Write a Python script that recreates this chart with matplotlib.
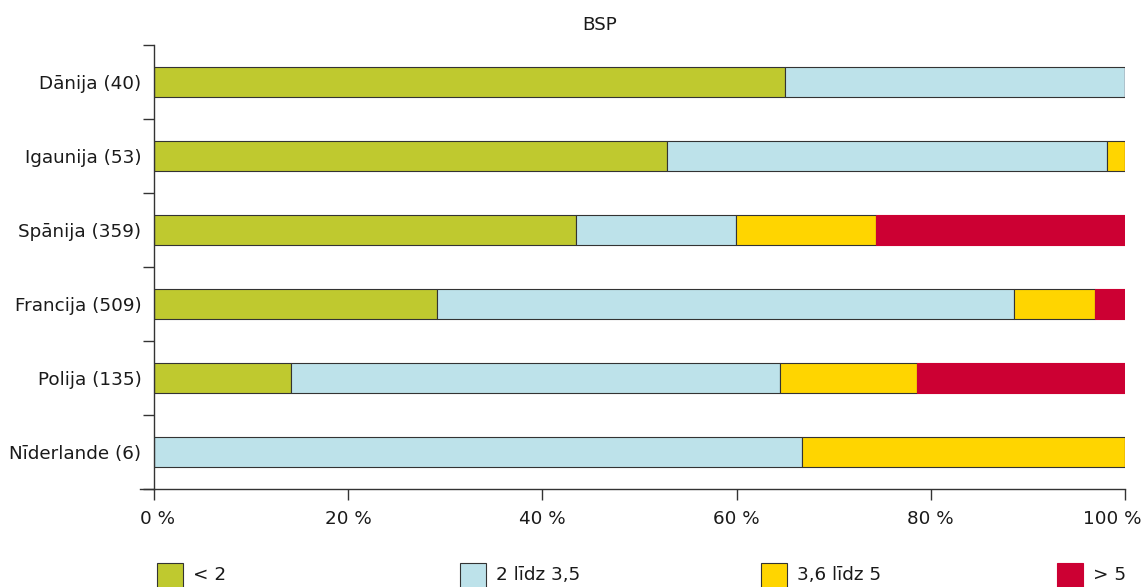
import matplotlib
matplotlib.use("Agg")
import matplotlib.pyplot as plt
from matplotlib.patches import Rectangle
from matplotlib.lines import Line2D
from matplotlib.transforms import ScaledTranslation
import numpy as np

plt.rcParams['font.family'] = ['DejaVu Sans']

countries = ["Dānija (40)", "Igaunija (53)", "Spānija (359)",
             "Francija (509)", "Polija (135)", "Nīderlande (6)"]
series_names = ["< 2", "2 līdz 3,5", "3,6 līdz 5", "> 5"]
lt2 = [65.0, 52.8, 43.5, 29.1, 14.1, 0.0]
from2to35 = [35.0, 45.3, 16.4, 59.5, 50.4, 66.7]
from36to5 = [0.0, 1.9, 14.5, 8.3, 14.1, 33.3]
gt5 = [0.0, 0.0, 25.6, 3.1, 21.5, 0.0]
x_ticks = [0, 20, 40, 60, 80, 100]
x_tick_labels = ["0 %", "20 %", "40 %", "60 %", "80 %", "100 %"]

colors = ["#bfc92f", "#bde2ea", "#ffd500", "#cc0033"]
edges = ["#333333", "#333333", "#333333", "#cc0033"]
FS = 13.2
TXT = "#1a1a1a"

W, H = 1145, 587
fig = plt.figure(figsize=(W / 100, H / 100), dpi=100)
ax = fig.add_axes([154 / W, 1 - 489 / H, (1125 - 154) / W, (489 - 45) / H])

values = [lt2, from2to35, from36to5, gt5]
y = np.arange(len(countries))
left = np.zeros(len(countries))
for vals, c, ec, name in zip(values, colors, edges, series_names):
    v = np.array(vals)
    ax.barh(y, v, left=left, height=0.4, color=c, edgecolor=ec,
            linewidth=0.8, label=name)
    left += v

ax.set_xlim(0, 100)
ax.set_ylim(len(countries) - 0.5, -0.5)
ax.set_yticks(y)
ax.set_yticklabels(countries, fontsize=FS, color=TXT)
ax.set_yticks(np.arange(-0.5, len(countries) + 0.5, 1), minor=True)
ax.tick_params(axis="y", which="major", length=0, pad=9)
ax.tick_params(axis="y", which="minor", length=8, width=1, color="#333333")
ax.set_xticks(x_ticks)
ax.set_xticklabels(x_tick_labels, fontsize=FS, color=TXT)
ax.tick_params(axis="x", which="major", length=8, width=1, color="#333333", pad=7)

# keep the end labels inside the figure
xlabels = ax.get_xticklabels()
xlabels[0].set_transform(xlabels[0].get_transform()
                         + ScaledTranslation(4 / 100, 0, fig.dpi_scale_trans))
xlabels[-1].set_transform(xlabels[-1].get_transform()
                          + ScaledTranslation(-13 / 100, 0, fig.dpi_scale_trans))

for s in ["top", "right"]:
    ax.spines[s].set_visible(False)
for s in ["left", "bottom"]:
    ax.spines[s].set_color("#333333")
    ax.spines[s].set_linewidth(1)

# extend the baseline slightly to the left of the value axis
ax.add_line(Line2D([-0.014, 0], [0, 0], transform=ax.transAxes,
                   color="#333333", linewidth=1, clip_on=False))

fig.text(600 / W, 1 - 25 / H, "BSP", ha="center", va="center",
         fontsize=FS, color=TXT)

# legend row
legend_x = [157, 460, 761, 1057]
for x0, c, ec, name in zip(legend_x, colors, edges, series_names):
    fig.add_artist(Rectangle((x0 / W, 1 - 590 / H), 26 / W, 27 / H,
                             transform=fig.transFigure, facecolor=c,
                             edgecolor=ec, linewidth=0.8))
    fig.text((x0 + 36) / W, 1 - 575 / H, name, ha="left", va="center",
             fontsize=FS, color=TXT)

fig.savefig("out.png", dpi=100)
